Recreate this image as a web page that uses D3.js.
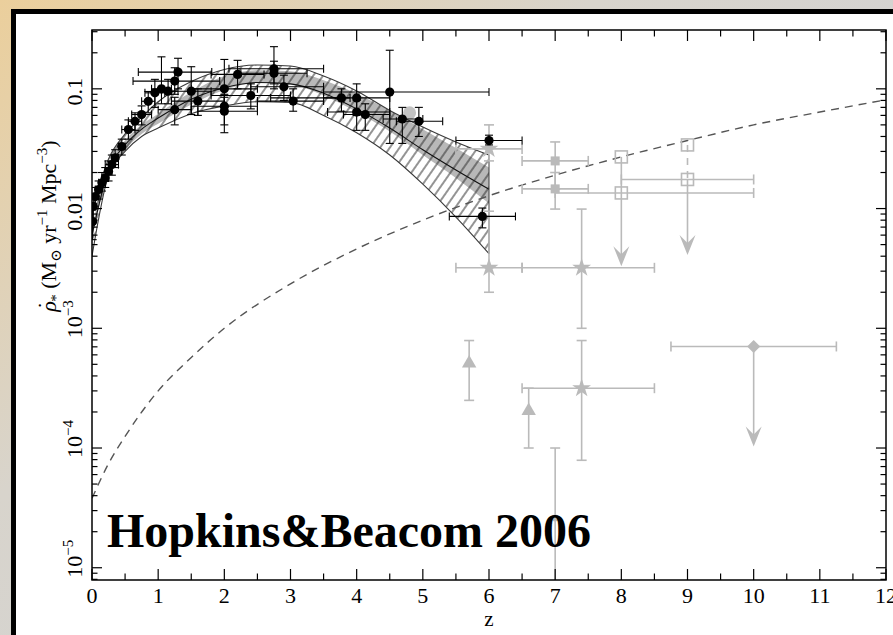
<!DOCTYPE html>
<html><head><meta charset="utf-8">
<script src="https://cdn.jsdelivr.net/npm/d3@7"></script>
<style>html,body{margin:0;padding:0;background:#fff;overflow:hidden}svg{display:block}</style>
</head><body>
<svg id="c" width="893" height="635"></svg>
<script>
// ---------- data ----------
const xDomain = [0, 12];
const yDomain = [7.9e-6, 0.31];
const xTickValues = [0,1,2,3,4,5,6,7,8,9,10,11,12];
const xTickLabels = ["0","1","2","3","4","5","6","7","8","9","10","11","12"];
const yTickValues = [1e-5, 1e-4, 1e-3, 0.01, 0.1];
const yTickBase = ["10","10","10","0.01","0.1"];
const yTickExp  = ["\u22125","\u22124","\u22123","",""];

// fit band (hatched), inner grey strip, central fit line
const bandZ      = [0,     0.25,  0.5,   0.75,  1,     1.5,   2,     2.5,   3,     3.5,   4,     4.5,   5,     5.5,   6];
const bandUpper  = [0.0095,0.026, 0.042, 0.058, 0.078, 0.115, 0.145, 0.158, 0.155, 0.128, 0.096, 0.066, 0.048, 0.036, 0.028];
const bandLower  = [0.004, 0.019, 0.030, 0.040, 0.047, 0.062, 0.072, 0.078, 0.077, 0.060, 0.043, 0.028, 0.016, 0.0085,0.0042];
const stripUpper = [0.007, 0.023, 0.037, 0.050, 0.062, 0.094, 0.128, 0.143, 0.140, 0.118, 0.091, 0.066, 0.046, 0.032, 0.022];
const stripLower = [0.0055,0.020, 0.031, 0.042, 0.051, 0.074, 0.098, 0.112, 0.108, 0.088, 0.064, 0.044, 0.028, 0.018, 0.011];
const fitCenter  = [0.006, 0.021, 0.034, 0.046, 0.057, 0.082, 0.102, 0.113, 0.110, 0.092, 0.068, 0.047, 0.031, 0.021, 0.0145];

// dashed curve
const dashZ = [0, 0.25, 0.5, 1, 1.5, 2, 3, 4, 5, 6, 7, 8, 9, 10, 11, 12];
const dashV = [3.8e-5, 7.4e-5, 1.25e-4, 3.0e-4, 5.7e-4, 1.0e-3, 2.35e-3, 4.6e-3, 8.0e-3, 0.0128, 0.019, 0.027, 0.037, 0.050, 0.064, 0.081];

// black points: [z, rho, zLow, zHigh, rhoLow, rhoHigh]
const blackPoints = [
  [0.01,0.0078,0,0.03,0.0055,0.011],
  [0.02,0.0104,0,0.05,0.008,0.013],
  [0.05,0.0126,0,0.1,0.010,0.015],
  [0.1,0.0144,0.05,0.15,0.012,0.017],
  [0.15,0.0164,0.1,0.2,0.014,0.020],
  [0.2,0.018,0.15,0.25,0.015,0.022],
  [0.25,0.0205,0.2,0.3,0.017,0.025],
  [0.3,0.0233,0.2,0.4,0.019,0.028],
  [0.35,0.0265,0.3,0.4,0.022,0.031],
  [0.45,0.033,0.4,0.5,0.028,0.038],
  [0.55,0.0457,0.45,0.65,0.038,0.055],
  [0.65,0.0536,0.55,0.75,0.045,0.063],
  [0.75,0.061,0.6,0.9,0.050,0.072],
  [0.85,0.0787,0.75,0.95,0.063,0.095],
  [0.95,0.0926,0.8,1.1,0.070,0.12],
  [1.05,0.1,0.9,1.2,0.075,0.185],
  [1.15,0.0955,1.0,1.3,0.075,0.12],
  [1.25,0.116,0.62,1.93,0.09,0.15],
  [1.3,0.138,0.7,1.81,0.10,0.18],
  [1.25,0.067,1.0,1.5,0.05,0.085],
  [1.5,0.0955,1.2,1.8,0.061,0.153],
  [1.6,0.079,1.2,2.0,0.06,0.10],
  [2.0,0.1,1.5,2.5,0.07,0.176],
  [2.0,0.0716,1.5,2.5,0.05,0.09],
  [2.0,0.065,1.6,2.5,0.043,0.085],
  [2.2,0.132,1.8,2.6,0.10,0.173],
  [2.4,0.088,1.8,3.0,0.068,0.11],
  [2.75,0.147,2.07,3.5,0.11,0.225],
  [2.75,0.135,2.25,3.25,0.10,0.17],
  [2.9,0.104,2.4,3.5,0.08,0.13],
  [3.04,0.079,2.5,3.5,0.065,0.10],
  [3.77,0.084,2.7,3.9,0.065,0.10],
  [4.0,0.084,3.5,4.5,0.06,0.11],
  [4.0,0.064,3.56,4.5,0.045,0.08],
  [4.13,0.061,3.8,4.5,0.045,0.075],
  [4.5,0.094,3.5,6.0,0.035,0.21],
  [4.69,0.056,4.4,5.0,0.035,0.07],
  [4.94,0.0536,4.6,5.3,0.04,0.07],
  [6.0,0.037,5.5,6.5,0.034,0.041],
  [5.9,0.0086,5.4,6.4,0.0069,0.0101]
];
// big grey disc
const greyDisc = [[4.8, 0.063]];

// grey high-z points
const greyStars     = [[6.0,0.0315,5.5,6.5,0.025,0.05],[6.0,0.0032,5.5,6.5,0.002,0.0095],[7.4,0.0032,6.5,8.5,0.001,0.0099],[7.4,3.16e-4,6.5,8.5,7.9e-5,7.9e-4]];
const greySquares   = [[7.0,0.025,6.5,7.5,0.0145,0.036],[7.0,0.0146,6.5,7.5,0.0099,0.020]];
const greyTriangles = [[5.7,5.1e-4,null,null,2.5e-4,7.9e-4],[6.6,2.04e-4,null,null,1.0e-4,3.16e-4]];
const greySmall     = [[7.0,2.6e-5,null,null,5e-6,1.0e-4]];
const openSquares   = [[8,0.027,null,null],[8,0.0135,7,10],[9,0.034,null,null],[9,0.0175,8,10]];
const diamonds      = [[10,7.05e-4,8.75,11.25]];
// upper limits: [z, from, arrowTip]
const upperLimits   = [[8,0.0135,0.0033],[9,0.0175,0.0041],[10,7.05e-4,1.03e-4]];
// connectors between open squares: [z, from, to, dashed]
const connectors    = [[8,0.027,0.0135,false],[9,0.034,0.0175,true]];

// ---------- drawing ----------
const svg = d3.select("#c");
const W = 893, H = 635;
const L = 92, R = 886, T = 30, B = 580;
const x = d3.scaleLinear().domain(xDomain).range([L, R]);
const y = d3.scaleLog().domain(yDomain).range([B, T]);
const GREY = "#bababa";

const defs = svg.append("defs");
const grad = defs.append("linearGradient").attr("id","bg").attr("x1","0").attr("y1","0").attr("x2","0.7").attr("y2","0.6");
grad.append("stop").attr("offset","0").attr("stop-color","#ebcf9c");
grad.append("stop").attr("offset","0.55").attr("stop-color","#d8d4cc");
grad.append("stop").attr("offset","1").attr("stop-color","#d3d3d3");
const hatch = defs.append("pattern").attr("id","hatch").attr("patternUnits","userSpaceOnUse")
  .attr("width",8).attr("height",8).attr("patternTransform","rotate(35)");
hatch.append("line").attr("x1",4).attr("y1",0).attr("x2",4).attr("y2",8).attr("stroke","#2a2a2a").attr("stroke-width",1);
defs.append("clipPath").attr("id","plotclip").append("rect").attr("x",L).attr("y",T).attr("width",R-L).attr("height",B-T);

svg.append("rect").attr("width",W).attr("height",H).attr("fill","url(#bg)");
svg.append("rect").attr("x",11).attr("y",9).attr("width",950).attr("height",700).attr("fill","#000");
svg.append("rect").attr("x",16).attr("y",14).attr("width",950).attr("height",700).attr("fill","#fff");

const plot = svg.append("g").attr("clip-path","url(#plotclip)");

// band
const idx = d3.range(bandZ.length);
const areaGen = (hi, lo) => d3.area().curve(d3.curveMonotoneX)
  .x(i => x(bandZ[i])).y0(i => y(lo[i])).y1(i => y(hi[i]));
const lineGen = arr => d3.line().curve(d3.curveMonotoneX).x(i => x(bandZ[i])).y(i => y(arr[i]));
plot.append("path").attr("d", areaGen(stripUpper, stripLower)(idx)).attr("fill","#b8b8b8");
plot.append("path").attr("d", areaGen(bandUpper, bandLower)(idx)).attr("fill","url(#hatch)");
plot.append("path").attr("d", lineGen(bandUpper)(idx)).attr("fill","none").attr("stroke","#3a3a3a").attr("stroke-width",1.1);
plot.append("path").attr("d", lineGen(bandLower)(idx)).attr("fill","none").attr("stroke","#3a3a3a").attr("stroke-width",1.1);
plot.append("path").attr("d", lineGen(fitCenter)(idx)).attr("fill","none").attr("stroke","#111").attr("stroke-width",1.1);
plot.append("line").attr("x1",x(6)).attr("x2",x(6)).attr("y1",y(bandUpper[14])).attr("y2",y(bandLower[14])).attr("stroke","#3a3a3a");

// dashed curve
plot.append("path").datum(d3.range(dashZ.length))
  .attr("d", d3.line().curve(d3.curveMonotoneX).x(i => x(dashZ[i])).y(i => y(dashV[i])))
  .attr("fill","none").attr("stroke","#555").attr("stroke-width",1.4).attr("stroke-dasharray","8,6");

// error bar helper
function errBars(g, data, color, cap, sw) {
  data.forEach(d => {
    const [z, v, zl, zh, vl, vh] = d;
    if (zl !== null && zl !== undefined) {
      g.append("line").attr("x1",x(zl)).attr("x2",x(zh)).attr("y1",y(v)).attr("y2",y(v)).attr("stroke",color).attr("stroke-width",sw);
      [zl, zh].forEach(e => g.append("line").attr("x1",x(e)).attr("x2",x(e)).attr("y1",y(v)-cap/2).attr("y2",y(v)+cap/2).attr("stroke",color).attr("stroke-width",sw));
    }
    if (vl !== null && vl !== undefined) {
      g.append("line").attr("x1",x(z)).attr("x2",x(z)).attr("y1",y(vl)).attr("y2",y(vh)).attr("stroke",color).attr("stroke-width",sw);
      [vl, vh].forEach(e => g.append("line").attr("x1",x(z)-cap/2).attr("x2",x(z)+cap/2).attr("y1",y(e)).attr("y2",y(e)).attr("stroke",color).attr("stroke-width",sw));
    }
  });
}

const gg = plot.append("g");
errBars(gg, greyStars, GREY, 10, 1.6);
errBars(gg, greySquares, GREY, 10, 1.6);
errBars(gg, greyTriangles, GREY, 10, 1.6);
errBars(gg, greySmall, GREY, 10, 1.6);
openSquares.forEach(d => { if (d[2] !== null) errBars(gg, [[d[0], d[1], d[2], d[3], null, null]], GREY, 10, 1.6); });
diamonds.forEach(d => errBars(gg, [[d[0], d[1], d[2], d[3], null, null]], GREY, 10, 1.6));
connectors.forEach(c => gg.append("line").attr("x1",x(c[0])).attr("x2",x(c[0])).attr("y1",y(c[1])).attr("y2",y(c[2]))
  .attr("stroke",GREY).attr("stroke-width",1.6).attr("stroke-dasharray", c[3] ? "7,6" : null));
upperLimits.forEach(u => {
  gg.append("line").attr("x1",x(u[0])).attr("x2",x(u[0])).attr("y1",y(u[1])).attr("y2",y(u[2])-8).attr("stroke",GREY).attr("stroke-width",1.6);
  gg.append("path").attr("transform",`translate(${x(u[0])},${y(u[2])})`).attr("d","M0,0L-8,-20L0,-12L8,-20Z").attr("fill",GREY);
});
// markers
greyStars.forEach(d => gg.append("path").attr("transform",`translate(${x(d[0])},${y(d[1])})`).attr("d", d3.symbol(d3.symbolStar, 110)()).attr("fill",GREY));
greySquares.forEach(d => gg.append("rect").attr("x",x(d[0])-4.5).attr("y",y(d[1])-4.5).attr("width",9).attr("height",9).attr("fill",GREY));
greyTriangles.forEach(d => gg.append("path").attr("transform",`translate(${x(d[0])},${y(d[1])})`).attr("d", d3.symbol(d3.symbolTriangle, 90)()).attr("fill",GREY));
greySmall.forEach(d => gg.append("circle").attr("cx",x(d[0])).attr("cy",y(d[1])).attr("r",3.5).attr("fill",GREY));
openSquares.forEach(d => gg.append("rect").attr("x",x(d[0])-6).attr("y",y(d[1])-6).attr("width",12).attr("height",12).attr("fill","none").attr("stroke",GREY).attr("stroke-width",1.6));
diamonds.forEach(d => gg.append("path").attr("transform",`translate(${x(d[0])},${y(d[1])})`).attr("d", d3.symbol(d3.symbolDiamond2, 110)()).attr("fill",GREY));
greyDisc.forEach(d => gg.append("circle").attr("cx",x(d[0])).attr("cy",y(d[1])).attr("r",6.5).attr("fill","#c2c2c2"));

// black points
const bg = plot.append("g");
errBars(bg, blackPoints, "#000", 8, 1.1);
blackPoints.forEach(d => bg.append("circle").attr("cx",x(d[0])).attr("cy",y(d[1])).attr("r",4.6).attr("fill","#000"));

// ---------- axes ----------
const ax = svg.append("g").attr("stroke","#000").attr("stroke-width",1.2);
ax.append("rect").attr("x",L).attr("y",T).attr("width",R-L).attr("height",B-T).attr("fill","none").attr("stroke-width",1.5);
const xMinor = d3.range(0.5, 12, 1);
xTickValues.forEach(v => {
  ax.append("line").attr("x1",x(v)).attr("x2",x(v)).attr("y1",B).attr("y2",B-11);
  ax.append("line").attr("x1",x(v)).attr("x2",x(v)).attr("y1",T).attr("y2",T+11);
});
xMinor.forEach(v => {
  ax.append("line").attr("x1",x(v)).attr("x2",x(v)).attr("y1",B).attr("y2",B-6.5);
  ax.append("line").attr("x1",x(v)).attr("x2",x(v)).attr("y1",T).attr("y2",T+6.5);
});
const yMinor = [];
[-6,-5,-4,-3,-2,-1].forEach(e => { for (let m = 2; m <= 9; m++) { const v = m * Math.pow(10, e); if (v > yDomain[0] && v < yDomain[1]) yMinor.push(v); } });
yTickValues.forEach(v => {
  ax.append("line").attr("x1",L).attr("x2",L+10).attr("y1",y(v)).attr("y2",y(v));
  ax.append("line").attr("x1",R).attr("x2",R-10).attr("y1",y(v)).attr("y2",y(v));
});
yMinor.forEach(v => {
  ax.append("line").attr("x1",L).attr("x2",L+5.5).attr("y1",y(v)).attr("y2",y(v));
  ax.append("line").attr("x1",R).attr("x2",R-5.5).attr("y1",y(v)).attr("y2",y(v));
});

const FONT = "'Liberation Serif','DejaVu Serif',serif";
svg.append("g").selectAll("text").data(xTickValues).join("text")
  .attr("x", v => x(v)).attr("y", 603).attr("text-anchor","middle")
  .attr("font-family",FONT).attr("font-size",22).attr("fill","#000")
  .text((v,i) => xTickLabels[i]);

yTickValues.forEach((v, i) => {
  const t = svg.append("text").attr("transform",`translate(82,${y(v)}) rotate(-90)`)
    .attr("font-family",FONT).attr("font-size",22).attr("fill","#000");
  if (yTickExp[i]) {
    t.attr("text-anchor","start").attr("x",-10);
    t.append("tspan").text(yTickBase[i]);
    t.append("tspan").attr("dy",-9).attr("font-size",15).text(yTickExp[i]);
  } else {
    t.attr("text-anchor","middle").attr("x",-3).text(yTickBase[i]);
  }
});

svg.append("text").attr("x",489).attr("y",626).attr("text-anchor","middle")
  .attr("font-family",FONT).attr("font-size",21).text("z");

// y-axis title
const yt = svg.append("text").attr("transform","translate(56,226) rotate(-90)").attr("text-anchor","middle")
  .attr("font-family",FONT).attr("font-size",22).attr("fill","#000");
yt.append("tspan").attr("font-style","italic").text("\u03C1");
yt.append("tspan").attr("dx",-8).attr("dy",-3).text("\u02D9");
yt.append("tspan").attr("dy",8).attr("font-size",15).text("*");
yt.append("tspan").attr("dy",-5).text(" (M");
yt.append("tspan").attr("dy",5).attr("font-size",15).text("\u2299");
yt.append("tspan").attr("dy",-5).text(" yr");
yt.append("tspan").attr("dy",-9).attr("font-size",15).text("\u22121");
yt.append("tspan").attr("dy",9).text(" Mpc");
yt.append("tspan").attr("dy",-9).attr("font-size",15).text("\u22123");
yt.append("tspan").attr("dy",9).text(")");

// annotation
svg.append("text").attr("x",107).attr("y",547).attr("font-family","'Liberation Serif','Times New Roman',serif")
  .attr("font-weight","bold").attr("font-size",48).attr("fill","#000").text("Hopkins&Beacom 2006");
</script>
</body></html>
